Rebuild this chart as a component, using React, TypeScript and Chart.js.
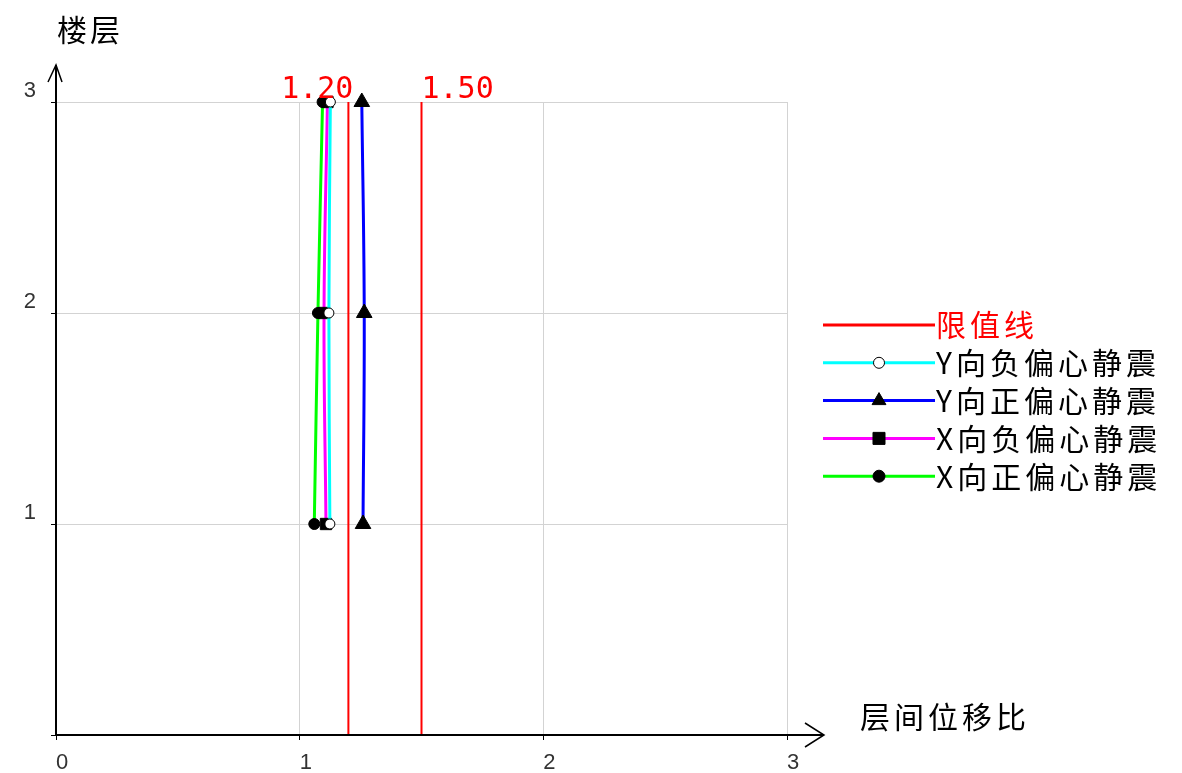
import React, { useEffect, useRef } from 'react';
import { Chart, registerables } from 'chart.js';
import { drawPoint } from 'chart.js/helpers';

Chart.register(...registerables);

// ---- data ----
const floors = [1, 2, 3];
const yNegEcc = [1.124, 1.12, 1.126]; // Y向负偏心静震
const yPosEcc = [1.26, 1.265, 1.255]; // Y向正偏心静震
const xNegEcc = [1.108, 1.1, 1.114]; // X向负偏心静震
const xPosEcc = [1.06, 1.075, 1.094]; // X向正偏心静震
const limitValues = [1.2, 1.5];
const limitLabel = '限值线';
const seriesLabels = ['Y向负偏心静震', 'Y向正偏心静震', 'X向负偏心静震', 'X向正偏心静震'];
const xAxisTitle = '层间位移比';
const yAxisTitle = '楼层';
const axisMin = 0;
const axisMax = 3;

const toPoints = (xs: number[]) => xs.map((x, i) => ({ x, y: floors[i] }));

const limitData: any[] = [];
limitValues.forEach((v, i) => {
  if (i > 0) limitData.push({ x: null, y: null });
  limitData.push({ x: v, y: axisMin }, { x: v, y: axisMax });
});

const CJK = '"Noto Sans CJK SC", sans-serif';

const decorPlugin = {
  id: 'decor',
  afterDraw(chart: any) {
    const { ctx, chartArea } = chart;
    const xs = chart.scales.x;
    const { left, right, top, bottom } = chartArea;
    ctx.save();
    // axes with arrows
    ctx.strokeStyle = '#000';
    ctx.lineWidth = 2;
    ctx.beginPath();
    ctx.moveTo(left, bottom);
    ctx.lineTo(left, top - 37);
    ctx.moveTo(left, bottom);
    ctx.lineTo(right + 36, bottom);
    ctx.stroke();
    ctx.lineWidth = 1.5;
    ctx.beginPath();
    ctx.moveTo(left - 8, top - 20);
    ctx.lineTo(left, top - 37);
    ctx.lineTo(left + 6, top - 20);
    ctx.moveTo(right + 18, bottom - 12);
    ctx.lineTo(right + 37, bottom);
    ctx.lineTo(right + 18, bottom + 12);
    ctx.stroke();

    // limit labels
    ctx.fillStyle = '#ff0000';
    ctx.font = '30px "DejaVu Sans Mono", monospace';
    ctx.textBaseline = 'alphabetic';
    limitValues.forEach((v, i) => {
      const px = xs.getPixelForValue(v);
      ctx.textAlign = i === 0 ? 'right' : 'left';
      ctx.fillText(v.toFixed(2), i === 0 ? px + 5 : px, top - 4);
    });

    // axis titles
    ctx.fillStyle = '#000';
    ctx.font = '30px ' + CJK;
    (ctx as any).letterSpacing = '3px';
    ctx.textAlign = 'left';
    ctx.textBaseline = 'middle';
    ctx.fillText(yAxisTitle, 57, 30);
    (ctx as any).letterSpacing = '4px';
    ctx.fillText(xAxisTitle, 860, 717);

    // legend
    const lx1 = 823, lx2 = 935, ly0 = 325, dy = 37.8;
    chart.data.datasets.forEach((ds: any, i: number) => {
      const y = ly0 + i * dy;
      ctx.strokeStyle = ds.borderColor;
      ctx.lineWidth = 3;
      ctx.beginPath();
      ctx.moveTo(lx1, y);
      ctx.lineTo(lx2, y);
      ctx.stroke();
      if (ds.pointRadius > 0) {
        ctx.fillStyle = ds.pointBackgroundColor;
        ctx.strokeStyle = ds.pointBorderColor;
        ctx.lineWidth = 1;
        drawPoint(ctx, { pointStyle: ds.pointStyle, radius: ds.legendRadius, rotation: 0, borderWidth: 1 }, (lx1 + lx2) / 2, y);
      }
      ctx.fillStyle = i === 0 ? '#ff0000' : '#000';
      ctx.font = '30px ' + CJK;
      (ctx as any).letterSpacing = '4px';
      ctx.textAlign = 'left';
      ctx.textBaseline = 'middle';
      ctx.fillText(ds.label, lx2 + 1, y);
    });
    ctx.restore();
  },
};

function series(label: string, xs: number[], color: string, style: string, radius: number, legendRadius: number, fill: string) {
  return {
    label,
    data: toPoints(xs),
    showLine: true,
    borderColor: color,
    backgroundColor: color,
    borderWidth: 3,
    tension: 0.4,
    pointStyle: style,
    pointRadius: radius,
    legendRadius,
    pointBackgroundColor: fill,
    pointBorderColor: '#000',
    pointBorderWidth: 1,
    clip: false,
  };
}

export default function App() {
  const ref = useRef<HTMLCanvasElement>(null);
  useEffect(() => {
    document.body.style.margin = '0';
    const chart = new Chart(ref.current!, {
      type: 'scatter',
      data: {
        datasets: [
          {
            label: limitLabel,
            data: limitData,
            showLine: true,
            spanGaps: false,
            borderColor: '#ff0000',
            backgroundColor: '#ff0000',
            borderWidth: 2,
            pointRadius: 0,
            tension: 0,
            clip: false,
          } as any,
          series(seriesLabels[0], yNegEcc, '#00ffff', 'circle', 5, 5.5, '#ffffff'),
          series(seriesLabels[1], yPosEcc, '#0000ff', 'triangle', 9, 8, '#000000'),
          series(seriesLabels[2], xNegEcc, '#ff00ff', 'rect', 8, 8.5, '#000000'),
          series(seriesLabels[3], xPosEcc, '#00ff00', 'circle', 5.5, 6, '#000000'),
        ],
      },
      options: {
        responsive: false,
        animation: false,
        layout: { padding: { top: 102, right: 395, left: 0, bottom: 0 } },
        plugins: { legend: { display: false }, tooltip: { enabled: false } },
        scales: {
          x: {
            type: 'linear',
            min: axisMin,
            max: axisMax,
            ticks: { stepSize: 1, align: 'start', padding: 10, color: '#333', font: { size: 22, family: '"Liberation Sans", sans-serif' } },
            grid: { color: '#d3d3d3', lineWidth: 1, tickLength: 5, tickColor: '#000' },
            border: { color: '#000', width: 2 },
            afterFit(scale: any) { scale.height = 38; },
          },
          y: {
            type: 'linear',
            min: axisMin,
            max: axisMax,
            ticks: {
              stepSize: 1,
              align: 'end',
              padding: 15,
              color: '#333',
              font: { size: 22, family: '"Liberation Sans", sans-serif' },
              callback: (v: any) => (v === 0 ? '' : String(v)),
            },
            grid: { color: '#d3d3d3', lineWidth: 1, tickLength: 5, tickColor: '#000' },
            border: { color: '#000', width: 2 },
            afterFit(scale: any) { scale.width = 56; },
          },
        },
      } as any,
      plugins: [decorPlugin],
    });
    return () => chart.destroy();
  }, []);
  return (
    <div style={{ width: 1182, height: 773 }}>
      <canvas ref={ref} width={1182} height={773} style={{ display: 'block' }} />
    </div>
  );
}
